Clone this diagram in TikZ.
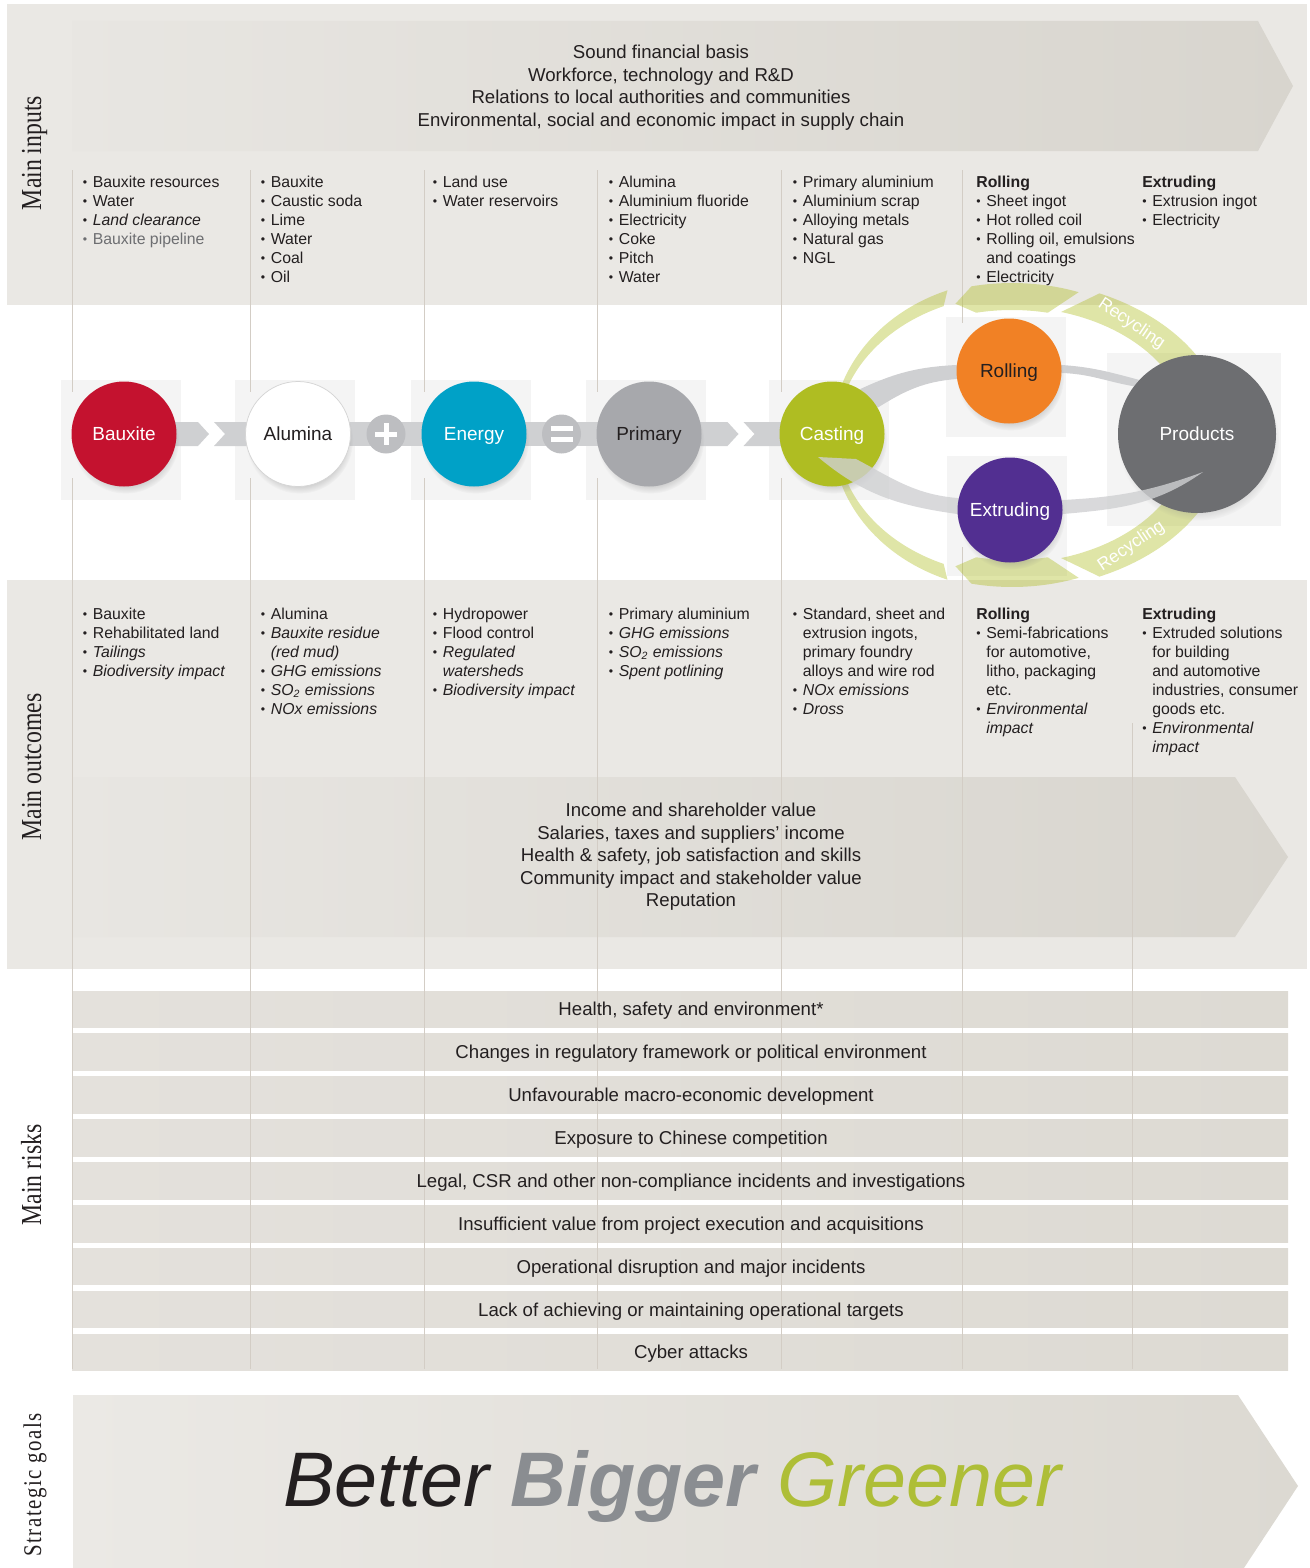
\documentclass[tikz,border=0pt]{standalone}
\usepackage{fontspec}
\setmainfont{Liberation Sans}
\newfontfamily\sideserif[FakeStretch=0.82]{Liberation Serif}
\usetikzlibrary{calc,shadows}
\definecolor{panelgray}{HTML}{EAE8E4}
\definecolor{arrowL}{HTML}{E8E6E2}
\definecolor{arrowR}{HTML}{D8D5CE}
\definecolor{goalL}{HTML}{EBE9E5}
\definecolor{goalR}{HTML}{DCD9D2}
\definecolor{riskL}{HTML}{E4E1DC}
\definecolor{riskR}{HTML}{DDDAD3}
\definecolor{linegray}{HTML}{D3CDC5}
\definecolor{boxgray}{HTML}{F4F4F4}
\definecolor{bandgray}{HTML}{CFD0D2}
\definecolor{opgray}{HTML}{BDBEC1}
\definecolor{bauxred}{HTML}{C4122F}
\definecolor{energyblue}{HTML}{00A1C7}
\definecolor{primgray}{HTML}{A7A8AC}
\definecolor{castgreen}{HTML}{AFBD22}
\definecolor{rollorange}{HTML}{F18125}
\definecolor{extpurple}{HTML}{522F91}
\definecolor{prodgray}{HTML}{6D6E71}
\definecolor{txt}{HTML}{231F20}
\definecolor{softtxt}{HTML}{6D6E71}
\definecolor{ringgray}{HTML}{D5D5D5}
\definecolor{biggray}{HTML}{8A8D91}
\definecolor{greengoal}{HTML}{AEBE37}
\pgfdeclarelayer{panel}
\pgfdeclarelayer{flow}
\pgfdeclarelayer{veil}
\pgfdeclarelayer{front}
\pgfsetlayers{panel,flow,main,veil,front}
\begin{document}
\begin{tikzpicture}[x=0.2mm, y=-0.2mm, line join=round, line cap=round,
	font=\fontsize{9}{10.8}\selectfont,
	panelfill/.style={fill=panelgray},
	colline/.style={draw=linegray, line width=0.2mm, line cap=butt},
	itemlist/.style={anchor=north west, inner sep=0pt, align=left, text=txt},
	flowtext/.style={align=center, text=txt, font=\fontsize{10.6}{12.8}\selectfont},
	risktext/.style={text=txt, inner sep=0pt, text height=7.6pt, text depth=2.2pt, font=\fontsize{10.6}{12.8}\selectfont},
	sidelabel/.style={rotate=90, anchor=base, text=txt, font=\sideserif\fontsize{16.5}{18}\selectfont},
	ball/.style={circle, minimum size=21mm, inner sep=0pt, text=white, text height=7.8pt, text depth=0pt,
		font=\fontsize{10.8}{12}\selectfont,
		circular drop shadow={shadow xshift=0.3mm, shadow yshift=-1.2mm, shadow scale=1.02, opacity=0.3}},
	opball/.style={circle, fill=opgray, minimum size=7.8mm, inner sep=0pt},
	opbar/.style={draw=white, line width=1mm, line cap=butt},
	chev/.style={fill=bandgray},
	backbox/.style={fill=boxgray},
	recyc/.style={fill=castgreen, fill opacity=0.4},
	recytext/.style={text=white, inner sep=0pt, font=\fontsize{10}{12}\selectfont}]
	\def\bul{\makebox[2mm][l]{\raisebox{0.1ex}{\fontsize{7}{7}\selectfont\textbullet}}}
	\def\wrapind{\hspace*{2mm}}
	\def\chevlink#1#2{%
		\coordinate (mid) at ($(#1)!.5!(#2)$);
		\fill[chev] ($(#1)+(0,-12)$) -- ($(mid)+(-13,-12)$) -- ($(mid)+(-2,0)$) -- ($(mid)+(-13,12)$) -- ($(#1)+(0,12)$) -- cycle;
		\fill[chev] ($(mid)+(3,-12)$) -- ($(#2)+(0,-12)$) -- ($(#2)+(0,12)$) -- ($(mid)+(3,12)$) -- ($(mid)+(14,0)$) -- cycle;}
	\useasboundingbox (0,0) rectangle (1309,1568);
	
	% value chain
	\node[ball, fill=bauxred] (bauxite) at (124,434) {Bauxite};
	\node[ball, fill=white, draw=ringgray, line width=0.15mm, text=txt] (alumina) at (298,434) {Alumina};
	\node[ball, fill=energyblue] (energy) at (474,434) {Energy};
	\node[ball, fill=primgray, text=txt] (primary) at (649,434) {Primary};
	\node[ball, fill=castgreen] (casting) at (832,434) {Casting};
	\node[ball, fill=prodgray, minimum size=31.6mm] (products) at (1197,434) {Products};
	\node[opball] (plus) at ($(alumina)!.5!(energy)$) {};
	\node[opball] (equals) at ($(energy)!.5!(primary)$) {};
	\draw[opbar] ($(plus)+(-11,0)$) -- ($(plus)+(11,0)$) ($(plus)+(0,-11)$) -- ($(plus)+(0,11)$);
	\draw[opbar] ($(equals)+(-11,-5.5)$) -- ($(equals)+(11,-5.5)$) ($(equals)+(-11,5.5)$) -- ($(equals)+(11,5.5)$);
	\begin{pgfonlayer}{front}
		\node[ball, fill=rollorange, text=txt] (rolling) at (1009,371) {Rolling};
		\node[ball, fill=extpurple] (extruding) at (1010,510) {Extruding};
	\end{pgfonlayer}
	
	\begin{pgfonlayer}{panel}
		\fill[panelfill] (7,4) rectangle (1307,305);
		\fill[panelfill] (7,580) rectangle (1307,969);
		\shade[left color=arrowL, right color=arrowR] (72,21) -- (1258,21) -- (1293,86) -- (1258,151) -- (72,151) -- cycle;
		\shade[left color=arrowL, right color=arrowR] (72,777) -- (1235,777) -- (1288,857) -- (1235,937) -- (72,937) -- cycle;
		\foreach \i in {0,...,8}
			\shade[left color=riskL, right color=riskR] (72,{991+42.9*\i}) rectangle (1288,{1027.5+42.9*\i});
		\begin{scope}
			\clip (0,0) rectangle (1309,1568);
			\shade[left color=goalL, right color=goalR] (73,1395) -- (1238,1395) -- (1298,1486) -- (1238,1577) -- (73,1577) -- cycle;
		\end{scope}
		% boxes behind the circles
		\foreach \n in {bauxite,alumina,energy,primary,casting,rolling,extruding}
			\fill[backbox] ($(\n)+(-63,-54)$) rectangle ($(\n)+(57,66)$);
		\fill[backbox] ($(products)+(-90,-81)$) rectangle ($(products)+(84,92)$);
		% column lines
		\foreach \cx in {72,250,424,597,781}
			\draw[colline] (\cx,170) -- (\cx,392) (\cx,478) -- (\cx,1369);
		\draw[colline] (962,170) -- (962,323) (962,547) -- (962,1369);
		\draw[colline] (1132,723) -- (1132,1369);
		
		\node[flowtext] (inputs) at (661,87.5) {Sound financial basis\\Workforce, technology and R\&D\\Relations to local authorities and communities\\Environmental, social and economic impact in supply chain};
		\node[flowtext] (values) at (691,857) {Income and shareholder value\\Salaries, taxes and suppliers' income\\Health \& safety, job satisfaction and skills\\Community impact and stakeholder value\\Reputation};
		% risks
		\foreach \rtxt [count=\i from 0] in {{Health, safety and environment*},{Changes in regulatory framework or political environment},{Unfavourable macro-economic development},{Exposure to Chinese competition},{Legal, CSR and other non-compliance incidents and investigations},{Insufficient value from project execution and acquisitions},{Operational disruption and major incidents},{Lack of achieving or maintaining operational targets},{Cyber attacks}}
			\node[risktext] (risk\i) at (691,{1011+42.9*\i}) {\rtxt};
		% goals
		\node[anchor=base, inner sep=0pt, font=\fontsize{44}{44}\selectfont\itshape] (goals) at (672,1506)
			{\textcolor{txt}{Better} \textcolor{biggray}{\bfseries Bigger} \textcolor{greengoal}{Greener}};
		\node[sidelabel] (lab-in) at (41,153) {Main inputs};
		\node[sidelabel] (lab-out) at (41,767) {Main outcomes};
		\node[sidelabel] (lab-risk) at (41,1175) {Main risks};
		\node[sidelabel, font=\sideserif\fontsize{14.5}{16}\selectfont\addfontfeature{LetterSpace=6}] (lab-goal) at (41,1485) {Strategic goals};
		% inputs
		\node[itemlist] (in1) at (82.5,176) {\bul Bauxite resources\\\bul Water\\\bul\textit{Land clearance}\\\textcolor{softtxt}{\bul Bauxite pipeline}};
		\node[itemlist] (in2) at (260.5,176) {\bul Bauxite\\\bul Caustic soda\\\bul Lime\\\bul Water\\\bul Coal\\\bul Oil};
		\node[itemlist] (in3) at (432.5,176) {\bul Land use\\\bul Water reservoirs};
		\node[itemlist] (in4) at (608.5,176) {\bul Alumina\\\bul Aluminium fluoride\\\bul Electricity\\\bul Coke\\\bul Pitch\\\bul Water};
		\node[itemlist] (in5) at (792.5,176) {\bul Primary aluminium\\\bul Aluminium scrap\\\bul Alloying metals\\\bul Natural gas\\\bul NGL};
		\node[itemlist] (in6) at (976,176) {\textbf{Rolling}\\\bul Sheet ingot\\\bul Hot rolled coil\\\bul Rolling oil, emulsions\\\wrapind and coatings\\\bul Electricity};
		\node[itemlist] (in7) at (1142,176) {\textbf{Extruding}\\\bul Extrusion ingot\\\bul Electricity};
		% outcomes
		\node[itemlist] (out1) at (82.5,607.5) {\bul Bauxite\\\bul Rehabilitated land\\\bul\textit{Tailings}\\\bul\textit{Biodiversity impact}};
		\node[itemlist] (out2) at (260.5,607.5) {\bul Alumina\\\bul\textit{Bauxite residue}\\\wrapind\textit{(red mud)}\\\bul\textit{GHG emissions}\\\bul\textit{SO\textsubscript{2} emissions}\\\bul\textit{NOx emissions}};
		\node[itemlist] (out3) at (432.5,607.5) {\bul Hydropower\\\bul Flood control\\\bul\textit{Regulated}\\\wrapind\textit{watersheds}\\\bul\textit{Biodiversity impact}};
		\node[itemlist] (out4) at (608.5,607.5) {\bul Primary aluminium\\\bul\textit{GHG emissions}\\\bul\textit{SO\textsubscript{2} emissions}\\\bul\textit{Spent potlining}};
		\node[itemlist] (out5) at (792.5,607.5) {\bul Standard, sheet and\\\wrapind extrusion ingots,\\\wrapind primary foundry\\\wrapind alloys and wire rod\\\bul\textit{NOx emissions}\\\bul\textit{Dross}};
		\node[itemlist] (out6) at (976,607.5) {\textbf{Rolling}\\\bul Semi-fabrications\\\wrapind for automotive,\\\wrapind litho, packaging\\\wrapind etc.\\\bul\textit{Environmental}\\\wrapind\textit{impact}};
		\node[itemlist] (out7) at (1142,607.5) {\textbf{Extruding}\\\bul Extruded solutions\\\wrapind for building\\\wrapind and automotive\\\wrapind industries, consumer\\\wrapind goods etc.\\\bul\textit{Environmental}\\\wrapind\textit{impact}};
	\end{pgfonlayer}
	
	\begin{pgfonlayer}{flow}
		\chevlink{bauxite}{alumina}
		\fill[chev] ($(alumina)+(0,-12)$) rectangle ($(energy)+(0,12)$);
		\fill[chev] ($(energy)+(0,-12)$) rectangle ($(primary)+(0,12)$);
		\chevlink{primary}{casting}
		% recycling ring
		\coordinate (hub) at (1012,435);
		\begin{scope}[shift={(hub)}]
			\foreach \s in {-1,1}{
				\fill[recyc] plot[domain=111:170, samples=40, variable=\t] ({180*cos(\t)},{\s*155*sin(\t)})
					-- plot[domain=170:113, samples=40, variable=\t] ({175*cos(\t)},{\s*140*sin(\t)}) -- cycle;
				\fill[recyc] plot[domain=102:70, samples=20, variable=\t] ({195*cos(\t)},{\s*152*sin(\t)})
					-- plot[domain=78:102, samples=20, variable=\t] ({172*cos(\t)},{\s*125*sin(\t)})
					-- ({183*cos(108)},{\s*138*sin(108)}) -- cycle;
				\fill[recyc] plot[domain=66:12, samples=40, variable=\t] ({215*cos(\t)},{\s*155*sin(\t)})
					-- plot[domain=12:74, samples=40, variable=\t] ({178*cos(\t)},{\s*128*sin(\t)}) -- cycle;
			}
			\node[recytext, rotate=-34] (recy-up) at ({194*cos(52)},{-141*sin(52)}) {Recycling};
			\node[recytext, rotate=34] (recy-down) at ({194*cos(52)},{141*sin(52)}) {Recycling};
		\end{scope}
		% casting to rolling to products
		\fill[chev] (casting.58) to[out=25,in=183] ($(rolling.west)+(0,-6)$) -- ($(rolling.east)+(0,-6)$)
			to[out=-4,in=165] (products.137) -- (products.143) to[out=170,in=-2] ($(rolling.east)+(0,2)$)
			-- ($(rolling.west)+(0,8)$) to[out=185,in=32] (casting.30) -- cycle;
	\end{pgfonlayer}
	
	% casting to extruding to products
	\begin{pgfonlayer}{veil}
		\fill[bandgray, fill opacity=0.8] ($(casting)+(-14,23)$) -- ($(casting)+(24,25)$) to[out=-28,in=175] ($(extruding.west)+(0,-12)$)
			-- ($(extruding.east)+(0,-10)$) to[out=3,in=200] ($(products)+(6,38)$) to[out=215,in=5] ($(extruding.east)+(0,4)$)
			-- ($(extruding.west)+(0,4)$) to[out=172,in=-40] ($(casting)+(-14,23)$) -- cycle;
	\end{pgfonlayer}
\end{tikzpicture}
\end{document}
